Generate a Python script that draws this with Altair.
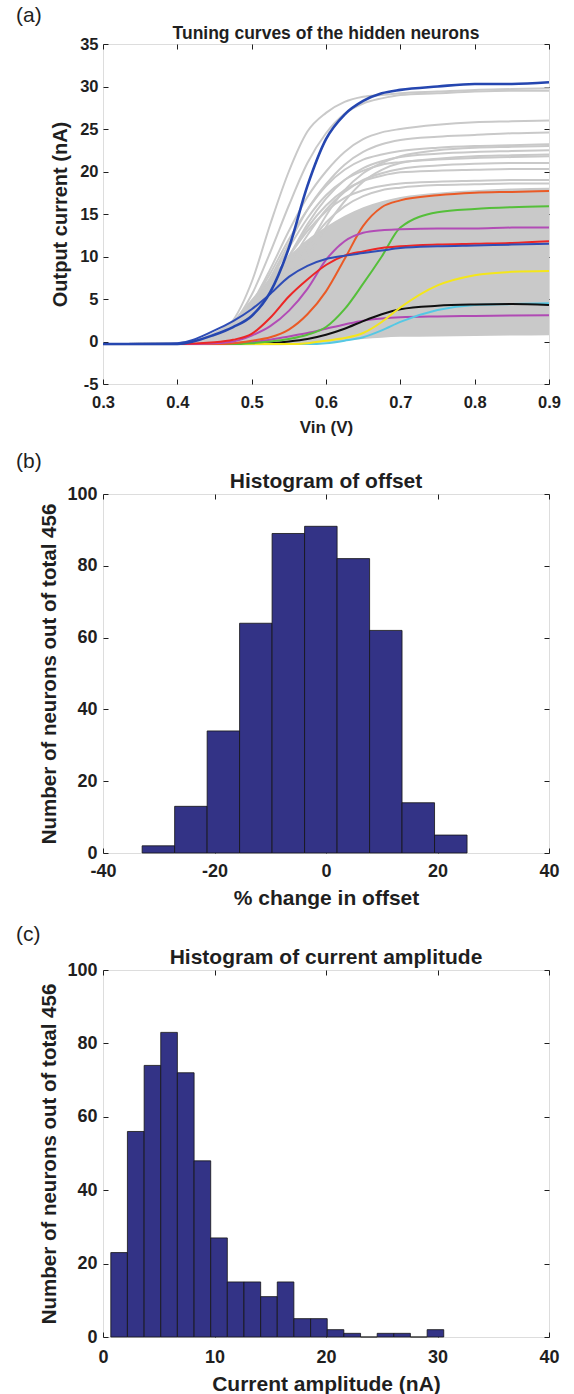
import altair as alt
import pandas as pd

# ---------------- Panel (a): tuning curves ----------------
VIN = [0.30, 0.40, 0.45, 0.475, 0.50, 0.525, 0.55, 0.575, 0.60, 0.625,
       0.65, 0.675, 0.70, 0.75, 0.80, 0.85, 0.90]

# coloured (highlighted) neurons, current in nA at each VIN point
MAG_LOW = [-0.3, -0.3, -0.3, -0.25, -0.1, 0.2, 0.6, 1.0, 1.5, 2.0, 2.45, 2.7, 2.85, 2.95, 3.0, 3.05, 3.1]
CYAN = [-0.3, -0.3, -0.3, -0.3, -0.3, -0.3, -0.3, -0.3, -0.2, 0.1, 0.5, 1.3, 2.3, 3.7, 4.3, 4.4, 4.5]
BLACK = [-0.3, -0.3, -0.3, -0.3, -0.3, -0.2, 0.0, 0.3, 0.8, 1.5, 2.4, 3.2, 3.8, 4.2, 4.35, 4.4, 4.3]
YELLOW = [-0.3, -0.3, -0.3, -0.3, -0.3, -0.3, -0.3, -0.2, 0.1, 0.4, 1.0, 2.3, 4.0, 6.6, 7.8, 8.2, 8.3]
GREEN = [-0.3, -0.3, -0.3, -0.3, -0.2, 0.0, 0.3, 0.8, 1.7, 3.8, 6.8, 10.0, 13.4, 15.2, 15.6, 15.8, 15.9]
ORANGE = [-0.3, -0.3, -0.3, -0.2, 0.1, 0.5, 1.4, 3.2, 5.9, 9.7, 13.6, 15.8, 16.6, 17.2, 17.5, 17.6, 17.7]
MAGENTA = [-0.3, -0.3, -0.2, 0.0, 0.7, 1.8, 3.6, 6.2, 9.6, 11.8, 12.8, 13.1, 13.2, 13.3, 13.3, 13.4, 13.4]
RED = [-0.3, -0.3, -0.1, 0.2, 0.9, 2.8, 5.3, 7.3, 9.0, 10.1, 10.6, 11.0, 11.2, 11.4, 11.5, 11.6, 11.8]
BLUE_LOW = [-0.3, -0.2, 1.3, 2.4, 3.8, 5.6, 7.6, 8.9, 9.7, 10.1, 10.4, 10.7, 11.0, 11.2, 11.3, 11.4, 11.5]
BLUE_BIG = [-0.3, -0.3, 0.8, 1.7, 3.0, 5.8, 11.0, 18.3, 23.8, 26.7, 28.3, 29.2, 29.6, 30.0, 30.3, 30.3, 30.5]

COLOURED = {
    "mag_low": MAG_LOW, "cyan": CYAN, "black": BLACK, "yellow": YELLOW,
    "green": GREEN, "orange": ORANGE, "magenta": MAGENTA, "red": RED,
    "blue_low": BLUE_LOW,
}
COLOURED_NAMES = list(COLOURED.keys())
COLOURED_RANGE = ["#b04ab4", "#55c8e4", "#101010", "#f4e61a", "#55bf3a",
                  "#ea5a26", "#b24cb6", "#ec2626", "#2f4db6"]

# individual grey neurons that stand out from the dense grey mass
G1 = [-0.3, -0.2, 1.0, 2.5, 7.0, 13.8, 20.0, 24.7, 26.9, 28.2, 28.8, 29.0, 29.2, 29.4, 29.6, 29.7, 29.8]
G1B = [-0.3, -0.2, 0.8, 2.2, 5.5, 10.5, 16.0, 21.0, 24.5, 26.8, 28.0, 28.6, 29.0, 29.2, 29.4, 29.5, 29.5]
G2 = [-0.3, -0.2, 0.6, 1.8, 4.5, 8.5, 13.0, 17.0, 20.0, 22.3, 23.8, 24.6, 25.0, 25.5, 25.8, 25.9, 26.0]
G3 = [-0.3, -0.2, 0.5, 1.6, 4.0, 7.5, 11.5, 15.5, 18.5, 20.8, 22.3, 23.2, 23.7, 24.1, 24.3, 24.5, 24.6]
G4 = [-0.3, -0.2, 0.6, 1.9, 4.4, 8.0, 12.0, 15.5, 18.3, 20.2, 21.4, 22.0, 22.4, 22.8, 23.0, 23.1, 23.2]
G5 = [-0.3, -0.2, 0.4, 1.4, 3.5, 6.5, 10.0, 13.8, 16.8, 19.0, 20.4, 21.2, 21.7, 22.1, 22.3, 22.4, 22.5]
G6 = [-0.3, -0.2, 0.5, 1.7, 4.0, 7.2, 11.0, 14.5, 17.2, 19.0, 20.1, 20.8, 21.1, 21.4, 21.6, 21.7, 21.8]
G7 = [-0.3, -0.2, 0.3, 1.1, 2.8, 5.5, 9.0, 12.5, 15.5, 17.6, 19.0, 19.8, 20.3, 20.7, 20.9, 21.0, 21.0]
G8 = [-0.3, -0.2, 0.4, 1.4, 3.4, 6.5, 10.0, 13.4, 16.0, 17.8, 18.9, 19.5, 19.9, 20.1, 20.2, 20.3, 20.3]
G9 = [-0.3, -0.2, 0.4, 1.5, 3.6, 6.6, 10.0, 13.0, 15.3, 16.9, 17.8, 18.3, 18.6, 18.8, 18.9, 19.0, 19.0]
G10 = [-0.3, -0.2, 0.2, 0.9, 2.4, 4.8, 8.0, 11.2, 14.0, 15.9, 17.1, 17.8, 18.1, 18.4, 18.5, 18.6, 18.6]
G11 = [-0.3, -0.3, 0.1, 0.6, 1.6, 3.5, 6.5, 10.0, 13.5, 16.5, 18.8, 20.2, 21.0, 21.5, 21.8, 21.9, 22.0]
G12 = [-0.3, -0.3, 0.1, 0.6, 1.8, 4.0, 7.2, 11.0, 14.8, 17.8, 19.8, 21.0, 21.8, 22.5, 22.8, 22.9, 23.0]
GREY_CURVES = {"g1": G1, "g1b": G1B, "g2": G2, "g3": G3, "g4": G4, "g5": G5, "g6": G6,
               "g7": G7, "g8": G8, "g9": G9, "g10": G10, "g11": G11, "g12": G12}

# envelope of the dense grey mass of the remaining neurons
BAND_LOW = [-0.45, -0.45, -0.45, -0.45, -0.45, -0.45, -0.4, -0.3, -0.1, 0.1, 0.3, 0.45, 0.55, 0.6, 0.65, 0.7, 0.75]
BAND_HIGH = [-0.2, -0.2, 1.0, 2.5, 5.0, 7.5, 10.0, 12.0, 13.5, 14.8, 15.8, 16.5, 17.0, 17.5, 17.8, 18.0, 18.1]

A_XTICKS = [0.3, 0.4, 0.5, 0.6, 0.7, 0.8, 0.9]
A_YTICKS = [-5, 0, 5, 10, 15, 20, 25, 30, 35]

# ---------------- Panel (b): histogram of offset ----------------
OFFSET_EDGES = [-32.98, -27.15, -21.32, -15.50, -9.67, -3.84, 1.99, 7.82, 13.64, 19.47, 25.30]
OFFSET_COUNTS = [2, 13, 34, 64, 89, 91, 82, 62, 14, 5]
B_XTICKS = [-40, -20, 0, 20, 40]

# ---------------- Panel (c): histogram of current amplitude ----------------
AMP_EDGES = [0.70, 2.19, 3.69, 5.18, 6.67, 8.17, 9.66, 11.15, 12.64, 14.14, 15.63,
             17.12, 18.62, 20.11, 21.60, 23.10, 24.59, 26.08, 27.57, 29.07, 30.56]
AMP_COUNTS = [23, 56, 74, 83, 72, 48, 27, 15, 15, 11, 15, 5, 5, 2, 1, 0, 1, 1, 0, 2]
C_XTICKS = [0, 10, 20, 30, 40]
HIST_YTICKS = [0, 20, 40, 60, 80, 100]

# ---------------- styling ----------------
FONT = "Liberation Sans"
TXT = "#1f1f1f"
GREY = "#c9c9c9"
BAR = "#333386"
MINUS_FIX = "replace(datum.label, '\u2212', '-')"


def main_axis(orient, title, values, fmt, lab_size, title_size, lab_pad, title_pad):
    return alt.Axis(orient=orient, title=title, values=values, format=fmt,
                    ticks=False, tickSize=0, domain=False, grid=False,
                    labelFont=FONT, labelFontSize=lab_size, labelFontWeight="bold",
                    labelColor=TXT, labelPadding=lab_pad, labelFlush=False,
                    labelOverlap=False, labelExpr=MINUS_FIX,
                    titleFont=FONT, titleFontSize=title_size, titleFontWeight="bold",
                    titleColor=TXT, titlePadding=title_pad)


def tick_axis(orient, values):
    return alt.Axis(orient=orient, offset=-5, values=values, labels=False,
                    domain=False, grid=False, ticks=True, tickSize=5,
                    tickColor=TXT, tickWidth=1, title=None)


def panel_label(text, dx, dy):
    return alt.Chart(pd.DataFrame({"k": [0]})).mark_text(
        text=text, font=FONT, fontSize=21, fontWeight="normal", color=TXT,
        align="left", baseline="middle"
    ).encode(x=alt.value(dx), y=alt.value(dy))


def tick_layers(df, xf, yf, xscale, yscale, xvals, yvals):
    bl = alt.Chart(df).mark_point(opacity=0).encode(
        x=alt.X(xf, scale=xscale, axis=tick_axis("bottom", xvals)),
        y=alt.Y(yf, scale=yscale, axis=tick_axis("left", yvals)))
    tr = alt.Chart(df).mark_point(opacity=0).encode(
        x=alt.X(xf, scale=xscale, axis=tick_axis("top", xvals)),
        y=alt.Y(yf, scale=yscale, axis=tick_axis("right", yvals)))
    return [bl, tr]


# ---- build panel (a) ----
band_df = pd.DataFrame({"vin": VIN, "lo": BAND_LOW, "hi": BAND_HIGH})
grey_df = pd.DataFrame([{"vin": v, "cur": c, "curve": name}
                        for name, vals in GREY_CURVES.items()
                        for v, c in zip(VIN, vals)])
col_df = pd.DataFrame([{"vin": v, "cur": c, "curve": name}
                       for name, vals in COLOURED.items()
                       for v, c in zip(VIN, vals)])
big_df = pd.DataFrame({"vin": VIN, "cur": BLUE_BIG})

ax_x = alt.Scale(domain=[0.3, 0.9], nice=False, zero=False)
ax_y = alt.Scale(domain=[-5, 35], nice=False, zero=False)

band = alt.Chart(band_df).mark_area(color=GREY, interpolate="monotone").encode(
    x=alt.X("vin:Q", scale=ax_x,
            axis=main_axis("bottom", "Vin (V)", A_XTICKS, ".1f", 16.5, 17, 10, 9)),
    y=alt.Y("lo:Q", scale=ax_y,
            axis=main_axis("left", "Output current (nA)", A_YTICKS, "d", 16.5, 20, 5, 9)),
    y2="hi:Q")
grey_lines = alt.Chart(grey_df).mark_line(color=GREY, strokeWidth=2, interpolate="monotone").encode(
    x=alt.X("vin:Q", scale=ax_x, axis=None),
    y=alt.Y("cur:Q", scale=ax_y, axis=None),
    detail="curve:N")
col_lines = alt.Chart(col_df).mark_line(strokeWidth=2, interpolate="monotone").encode(
    x=alt.X("vin:Q", scale=ax_x, axis=None),
    y=alt.Y("cur:Q", scale=ax_y, axis=None),
    color=alt.Color("curve:N", scale=alt.Scale(domain=COLOURED_NAMES, range=COLOURED_RANGE),
                    legend=None))
big_line = alt.Chart(big_df).mark_line(color="#2546b0", strokeWidth=2.6, interpolate="monotone").encode(
    x=alt.X("vin:Q", scale=ax_x, axis=None),
    y=alt.Y("cur:Q", scale=ax_y, axis=None))

panel_a = alt.layer(
    band, grey_lines, col_lines, big_line,
    *tick_layers(big_df, "vin:Q", "cur:Q", ax_x, ax_y, A_XTICKS, A_YTICKS),
    panel_label("(a)", -87, -28),
).resolve_axis(x="independent", y="independent").properties(
    width=446, height=340,
    title=alt.Title("Tuning curves of the hidden neurons", font=FONT, fontSize=17.5,
                    fontWeight="bold", color=TXT, offset=3, anchor="middle", dy=40))


# ---- histogram panels ----
def hist_panel(edges, counts, xdom, xticks, xtitle, title, label, height,
               lab_pad, title_pad_x, label_dy, title_dy):
    df = pd.DataFrame({"lo": edges[:-1], "hi": edges[1:], "n": counts})
    xs = alt.Scale(domain=xdom, nice=False, zero=False)
    ys = alt.Scale(domain=[0, 100], nice=False)
    bars = alt.Chart(df).mark_rect(color=BAR, stroke="#141414", strokeWidth=0.8).encode(
        x=alt.X("lo:Q", scale=xs,
                axis=main_axis("bottom", xtitle, xticks, "d", 18, 21, lab_pad, title_pad_x)),
        x2="hi:Q",
        y=alt.Y("n:Q", scale=ys,
                axis=main_axis("left", "Number of neurons out of total 456", HIST_YTICKS,
                               "d", 18, 20.5, 6, 7)),
        y2=alt.datum(0))
    return alt.layer(
        bars,
        *tick_layers(df, "lo:Q", "n:Q", xs, ys, xticks, HIST_YTICKS),
        panel_label(label, -87, label_dy),
    ).resolve_axis(x="independent", y="independent").properties(
        width=446, height=height,
        title=alt.Title(title, font=FONT, fontSize=21, fontWeight="bold", color=TXT,
                        offset=3, anchor="middle", dy=title_dy))


panel_b = hist_panel(OFFSET_EDGES, OFFSET_COUNTS, [-40, 40], B_XTICKS,
                     "% change in offset", "Histogram of offset", "(b)", 359, 9, 7, -32, 44)
panel_c = hist_panel(AMP_EDGES, AMP_COUNTS, [0, 40], C_XTICKS,
                     "Current amplitude (nA)", "Histogram of current amplitude", "(c)", 367,
                     11, 7, -35, 47)

chart = alt.vconcat(panel_a, panel_b, panel_c, spacing=14).configure_view(
    stroke=TXT, strokeWidth=1.2
).configure(background="white").properties(
    padding={"left": 15, "top": 4, "right": 4, "bottom": 4})

chart.save("out.html", embed_options={"renderer": "svg", "actions": False})
